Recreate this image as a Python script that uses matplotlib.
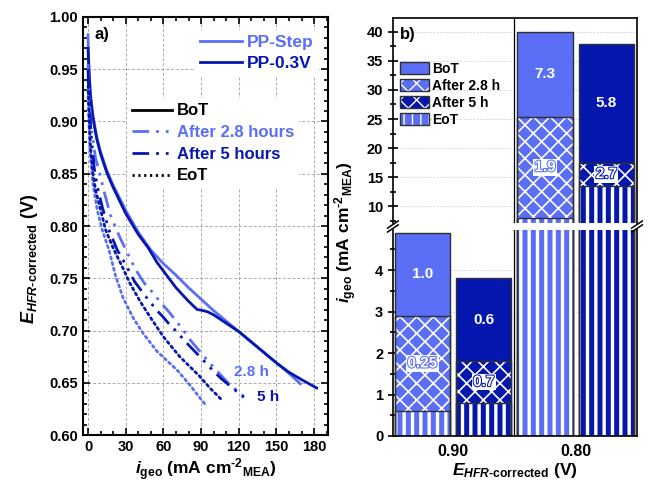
import matplotlib
matplotlib.use("Agg")
import matplotlib.pyplot as plt
from matplotlib.ticker import MultipleLocator
from matplotlib.patches import Patch
from matplotlib.lines import Line2D
from matplotlib.legend_handler import HandlerTuple
import matplotlib.patheffects as pe

plt.rcParams["font.family"] = "Liberation Sans"
plt.rcParams["font.weight"] = "bold"
plt.rcParams["axes.labelweight"] = "bold"
plt.rcParams["mathtext.fontset"] = "custom"
plt.rcParams["mathtext.rm"] = "Liberation Sans:bold"
plt.rcParams["mathtext.it"] = "Liberation Sans:italic:bold"
plt.rcParams["mathtext.bf"] = "Liberation Sans:bold"

LIGHT = "#5A6FF5"
DARK = "#0617B0"

# a) polarization curves (current mA/cm2, voltage V)
step_bot_i = [0, 0.5, 1, 2, 4, 7, 10, 15, 20, 30, 40, 50, 60, 70, 80, 90, 100, 110, 120, 130, 140, 150, 160, 169]
step_bot_v = [0.983, 0.96, 0.945, 0.925, 0.905, 0.885, 0.871, 0.853, 0.839, 0.815, 0.794, 0.777, 0.764, 0.753, 0.741, 0.730, 0.719, 0.709, 0.699, 0.689, 0.679, 0.669, 0.659, 0.649]

v03_bot_i = [0, 0.5, 1, 2, 4, 7, 10, 15, 20, 30, 40, 48, 52, 55, 60, 70, 80, 87, 90, 95, 100, 110, 120, 130, 140, 150, 160, 170, 182]
v03_bot_v = [0.970, 0.955, 0.942, 0.923, 0.903, 0.883, 0.869, 0.851, 0.837, 0.812, 0.792, 0.779, 0.771, 0.765, 0.757, 0.741, 0.728, 0.720, 0.7195, 0.718, 0.715, 0.707, 0.699, 0.689, 0.679, 0.669, 0.660, 0.653, 0.645]

step_28h_i = [0, 1, 3, 6, 9, 13, 18, 25, 31, 38, 45, 51, 57, 65, 76, 82, 94, 102, 113, 125]
step_28h_v = [0.955, 0.92, 0.89, 0.865, 0.852, 0.832, 0.810, 0.790, 0.775, 0.758, 0.745, 0.737, 0.728, 0.717, 0.700, 0.690, 0.673, 0.662, 0.648, 0.636]

v03_5h_i = [0, 1, 3, 5, 7.4, 11.4, 16.7, 23.3, 30, 37, 45, 55, 59, 64, 72, 77, 85, 93, 100, 106, 124]
v03_5h_v = [0.95, 0.915, 0.88, 0.855, 0.838, 0.818, 0.796, 0.777, 0.763, 0.747, 0.734, 0.719, 0.714, 0.707, 0.697, 0.690, 0.680, 0.670, 0.661, 0.654, 0.636]

step_eot_i = [0, 1, 2, 4, 7.4, 11.4, 16.7, 22, 28, 36, 44, 55, 71, 81, 94]
step_eot_v = [0.93, 0.89, 0.865, 0.84, 0.815, 0.796, 0.777, 0.752, 0.731, 0.712, 0.697, 0.680, 0.662, 0.648, 0.628]

v03_eot_i = [0, 1, 2, 4, 6.1, 10.1, 14.1, 20.7, 27.3, 33, 41.4, 49.4, 60, 73, 89, 97, 107]
v03_eot_v = [0.94, 0.90, 0.875, 0.85, 0.834, 0.815, 0.796, 0.777, 0.761, 0.746, 0.728, 0.713, 0.694, 0.675, 0.656, 0.645, 0.633]

# b) current at fixed potential (mA/cm2)
potentials = ["0.90", "0.80"]
step_bot = [4.9, 40.0]
step_after = [2.9, 25.4]
step_eot = [0.6, 8.0]
v03_bot = [3.8, 38.0]
v03_after = [1.8, 17.5]
v03_eot = [0.8, 13.5]
step_lab_top = ["1.0", "7.3"]
step_lab_mid = ["0.25", "1.9"]
v03_lab_top = ["0.6", "5.8"]
v03_lab_mid = ["0.7", "2.7"]

dash_dot_dot = (0, (6, 2.5, 1, 2.5, 1, 2.5))
dots = (0, (0.8, 1.3))

fig = plt.figure(figsize=(6.57, 4.84), dpi=100)

# ---------------- a) ----------------
ax = fig.add_axes([0.1263, 0.1012, 0.3729, 0.8637])
ax.plot(step_bot_i, step_bot_v, color=LIGHT, lw=2)
ax.plot(v03_bot_i, v03_bot_v, color=DARK, lw=2)
ax.plot(step_28h_i, step_28h_v, color=LIGHT, lw=2, ls=dash_dot_dot)
ax.plot(v03_5h_i, v03_5h_v, color=DARK, lw=2, ls=dash_dot_dot)
ax.plot(step_eot_i, step_eot_v, color=LIGHT, lw=2, ls=dots, dash_capstyle="round")
ax.plot(v03_eot_i, v03_eot_v, color=DARK, lw=2, ls=dots, dash_capstyle="round")

ax.set_xlim(-4, 191)
ax.set_ylim(0.60, 1.00)
ax.xaxis.set_major_locator(MultipleLocator(30))
ax.xaxis.set_minor_locator(MultipleLocator(10))
ax.yaxis.set_major_locator(MultipleLocator(0.05))
ax.yaxis.set_minor_locator(MultipleLocator(0.01))
ax.yaxis.set_major_formatter(lambda v, p: f"{v:.2f}")
ax.tick_params(which="both", direction="in", top=True, right=True, labelsize=10.5, width=1.2)
ax.tick_params(which="major", length=5)
ax.tick_params(which="minor", length=3)
ax.grid(True, which="major", color="#aaaaaa", ls=(0, (3, 2)), lw=0.7)
ax.set_axisbelow(True)
for s in ax.spines.values():
    s.set_linewidth(1.5)

ax.set_xlabel(r"$i_{\mathrm{geo}}$ (mA cm$^{\text{-}2}$$_{\mathrm{MEA}}$)", fontsize=12.5, labelpad=2)
ax.set_ylabel(r"$E_{HFR\text{-corrected}}$ (V)", fontsize=13)
ax.yaxis.set_label_coords(-0.175, 0.42)

ax.text(5, 0.99, "a)", fontsize=12, va="top")
ax.text(130, 0.660, "2.8 h", color=LIGHT, fontsize=11, ha="center", va="center")
ax.text(143, 0.636, "5 h", color=DARK, fontsize=11, ha="center", va="center")

h1 = [Line2D([], [], color=LIGHT, lw=2), Line2D([], [], color=DARK, lw=2)]
leg1 = ax.legend(h1, ["PP-Step", "PP-0.3V"], loc="upper right", bbox_to_anchor=(1.0, 0.99),
                 fontsize=12.5, labelcolor=[LIGHT, DARK], handlelength=2.4, handletextpad=0.3,
                 labelspacing=0.35, borderpad=0.3, framealpha=1, facecolor="white",
                 edgecolor="none", fancybox=False)
ax.add_artist(leg1)
h2 = [Line2D([], [], color="black", lw=2),
      Line2D([], [], color=LIGHT, lw=2, ls=dash_dot_dot),
      Line2D([], [], color=DARK, lw=2, ls=dash_dot_dot),
      Line2D([], [], color="black", lw=2, ls=dots)]
ax.legend(h2, ["BoT", "After 2.8 hours", "After 5 hours", "EoT"], loc="upper left",
          bbox_to_anchor=(0.145, 0.825), fontsize=12,
          labelcolor=["black", LIGHT, DARK, "black"], handlelength=2.4, handletextpad=0.3,
          labelspacing=0.4, borderpad=0.3, framealpha=1, facecolor="white",
          edgecolor="none", fancybox=False)

# ---------------- b) ----------------
axu = fig.add_axes([0.598, 0.5393, 0.3716, 0.4236])
axl = fig.add_axes([0.598, 0.0992, 0.3716, 0.4256])
W = 0.45
offs = [-0.25, 0.25]
STRIPE = "||"
CROSS = "xx"
CROSS_LW = 1.2
STRIPE_LW = 2.4


def solid(a, x, h, face):
    a.bar(x, h, width=W, color=face, linewidth=0)


def hatched(a, x, h, face, hatch, hlw):
    with plt.rc_context({"hatch.color": "white", "hatch.linewidth": hlw}):
        bars = a.bar(x, h, width=W, color=face, hatch=hatch, linewidth=0)
        for b in bars:
            if hasattr(b, "set_hatch_linewidth"):
                b.set_hatch_linewidth(hlw)


def outline(a, x, h):
    a.bar(x, h, width=W, fill=False, edgecolor="#303030", linewidth=1)


for a in (axu, axl):
    for k in range(len(potentials)):
        for off, face, bot, aft, eot in ((offs[0], LIGHT, step_bot, step_after, step_eot),
                                         (offs[1], DARK, v03_bot, v03_after, v03_eot)):
            x = k + off
            solid(a, x, bot[k], face)
            hatched(a, x, aft[k], face, CROSS, CROSS_LW)
            hatched(a, x, eot[k], face, STRIPE, STRIPE_LW)
            outline(a, x, bot[k])
            outline(a, x, aft[k])
            outline(a, x, eot[k])
    a.axvline(0.5, color="black", lw=0.9)
    a.set_xlim(-0.49, 1.5)
    a.grid(True, axis="y", color="#cccccc", ls=(0, (2, 2)), lw=0.6)
    a.set_axisbelow(True)
    a.tick_params(axis="y", which="both", direction="inout", labelsize=10.5, width=1.2)
    a.tick_params(axis="y", which="major", length=7)
    a.tick_params(axis="y", which="minor", length=4)
    for s in a.spines.values():
        s.set_linewidth(1.2)

axu.set_ylim(7.1, 42.4)
axu.yaxis.set_major_locator(MultipleLocator(5))
axu.yaxis.set_minor_locator(MultipleLocator(2.5))
axu.spines["bottom"].set_visible(False)
axu.tick_params(axis="x", bottom=False, labelbottom=False)
axl.set_ylim(0, 4.97)
axl.yaxis.set_major_locator(MultipleLocator(1))
axl.yaxis.set_minor_locator(MultipleLocator(0.5))
axl.spines["top"].set_visible(False)
axl.set_xticks([0, 1], potentials)
axl.tick_params(axis="x", length=0, labelsize=11.5, pad=6)
axl.set_xlabel(r"$E_{HFR\text{-corrected}}$ (V)", fontsize=12.5, labelpad=1)

# value labels at segment centres
for k, a in enumerate((axl, axu)):
    x1 = k + offs[0]
    x2 = k + offs[1]
    a.text(x1, (step_bot[k] + step_after[k]) / 2, step_lab_top[k], color="white",
           ha="center", va="center", fontsize=11)
    a.text(x2, (v03_bot[k] + v03_after[k]) / 2, v03_lab_top[k], color="white",
           ha="center", va="center", fontsize=11)
    a.text(x1, (step_after[k] + step_eot[k]) / 2, step_lab_mid[k], color="white",
           ha="center", va="center", fontsize=11,
           path_effects=[pe.withStroke(linewidth=1.5, foreground=LIGHT)],
           bbox=dict(facecolor="white", edgecolor="none", pad=1.0))
    a.text(x2, (v03_after[k] + v03_eot[k]) / 2, v03_lab_mid[k], color="white",
           ha="center", va="center", fontsize=11,
           path_effects=[pe.withStroke(linewidth=1.5, foreground=DARK)],
           bbox=dict(facecolor="white", edgecolor="none", pad=1.0))

axu.text(0.03, 39.6, "b)", fontsize=12, va="center", transform=axu.get_yaxis_transform())

# break marks
d = 0.022
kw = dict(color="black", lw=1.1, clip_on=False)
for xx in (0, 1):
    axu.plot([xx - d, xx + d], [-0.025, 0.01], transform=axu.transAxes, **kw)
    axl.plot([xx - d, xx + d], [0.99, 1.025], transform=axl.transAxes, **kw)


def legend_patch(face, hatch, hlw):
    with plt.rc_context({"hatch.color": "white", "hatch.linewidth": hlw}):
        p = Patch(facecolor=face, hatch=hatch, linewidth=0)
        if hatch and hasattr(p, "set_hatch_linewidth"):
            p.set_hatch_linewidth(hlw)
    return (p, Patch(fill=False, edgecolor="#303030", linewidth=1))


h3 = [legend_patch(LIGHT, None, 1.0), legend_patch(LIGHT, CROSS, CROSS_LW),
      legend_patch(DARK, CROSS, CROSS_LW), legend_patch(LIGHT, STRIPE, STRIPE_LW)]
axu.legend(h3, ["BoT", "After 2.8 h", "After 5 h", "EoT"], loc="upper left",
           bbox_to_anchor=(-0.01, 0.835), fontsize=10, handlelength=2.1, handleheight=0.95,
           handletextpad=0.2, labelspacing=0.22, borderpad=0.2, frameon=False,
           handler_map={tuple: HandlerTuple(ndivide=1)})

fig.text(0.527, 0.52, r"$i_{\mathrm{geo}}$ (mA cm$^{\text{-}2}$$_{\mathrm{MEA}}$)", rotation=90,
         ha="center", va="center", fontsize=12.5, fontweight="bold")

fig.savefig("out.png", dpi=100)
